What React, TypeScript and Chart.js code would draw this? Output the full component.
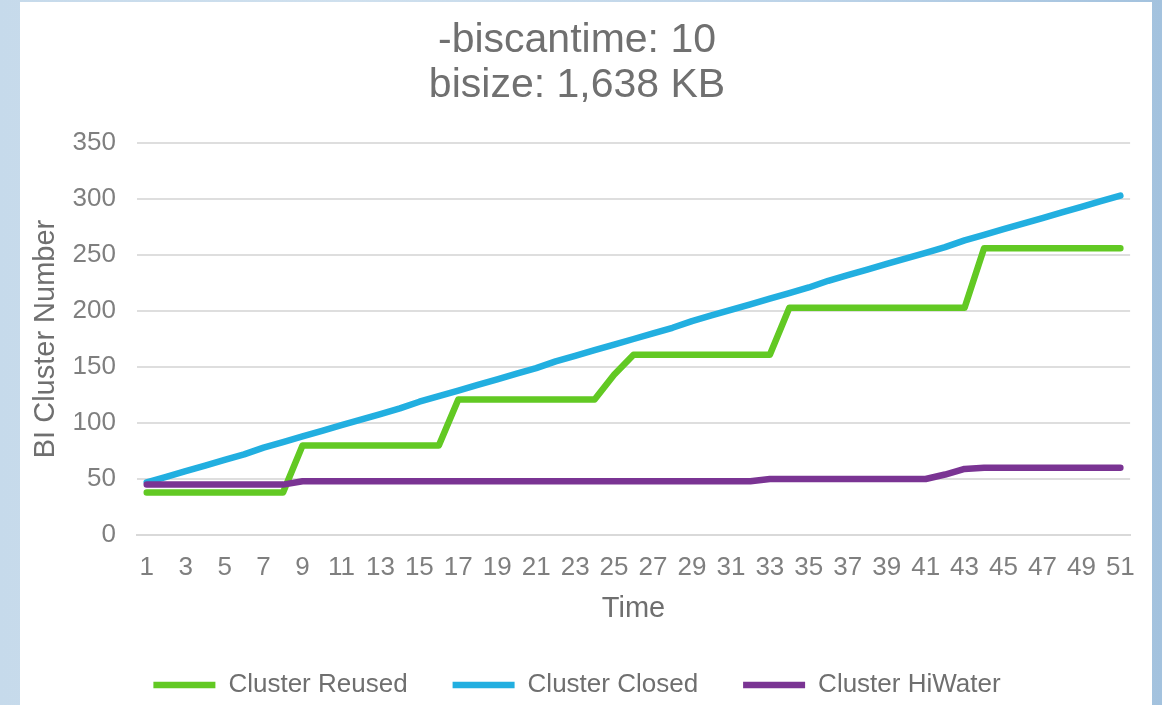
import React, { useEffect, useRef } from "react";
import { Chart, registerables } from "chart.js";

Chart.register(...registerables);

const titleLines = ["-biscantime: 10", "bisize: 1,638 KB"];
const xAxisTitle = "Time";
const yAxisTitle = "BI Cluster Number";

const categories = [
  "1", "2", "3", "4", "5", "6", "7", "8", "9", "10",
  "11", "12", "13", "14", "15", "16", "17", "18", "19", "20",
  "21", "22", "23", "24", "25", "26", "27", "28", "29", "30",
  "31", "32", "33", "34", "35", "36", "37", "38", "39", "40",
  "41", "42", "43", "44", "45", "46", "47", "48", "49", "50",
  "51",
];

const clusterReused = [
  38, 38, 38, 38, 38, 38, 38, 38,
  80, 80, 80, 80, 80, 80, 80, 80,
  121, 121, 121, 121, 121, 121, 121, 121,
  143,
  161, 161, 161, 161, 161, 161, 161, 161,
  203, 203, 203, 203, 203, 203, 203, 203, 203, 203,
  256, 256, 256, 256, 256, 256, 256, 256,
];

const clusterClosed = [
  47, 52, 57, 62, 67, 72, 78, 83, 88, 93,
  98, 103, 108, 113, 119, 124, 129, 134, 139, 144,
  149, 155, 160, 165, 170, 175, 180, 185, 191, 196,
  201, 206, 211, 216, 221, 227, 232, 237, 242, 247,
  252, 257, 263, 268, 273, 278, 283, 288, 293, 298,
  303,
];

const clusterHiWater = [
  45, 45, 45, 45, 45, 45, 45, 45,
  48, 48, 48, 48, 48, 48, 48, 48, 48, 48, 48, 48,
  48, 48, 48, 48, 48, 48, 48, 48, 48, 48, 48, 48,
  50, 50, 50, 50, 50, 50, 50, 50, 50,
  54, 59,
  60, 60, 60, 60, 60, 60, 60, 60,
];

const seriesNames = ["Cluster Reused", "Cluster Closed", "Cluster HiWater"];
const seriesColors = ["#62c923", "#22afe0", "#7a3493"];

const FONT = "'Liberation Sans', Arial, Helvetica, sans-serif";

export default function App() {
  const canvasRef = useRef<HTMLCanvasElement | null>(null);

  useEffect(() => {
    const canvas = canvasRef.current;
    if (!canvas) return;
    const seriesData = [clusterReused, clusterClosed, clusterHiWater];
    const chart = new Chart(canvas, {
      type: "line",
      data: {
        labels: categories,
        datasets: seriesNames.map((name, i) => ({
          label: name,
          data: seriesData[i],
          borderColor: seriesColors[i],
          backgroundColor: seriesColors[i],
          borderWidth: 6.5,
          pointRadius: 0,
          pointHoverRadius: 0,
          tension: 0,
          fill: false,
          borderCapStyle: "round" as const,
          borderJoinStyle: "round" as const,
          order: 3 - i,
        })),
      },
      options: {
        responsive: false,
        animation: false,
        events: [],
        layout: { padding: { left: 0, right: 18, top: 0, bottom: 0 } },
        plugins: {
          tooltip: { enabled: false },
          title: {
            display: true,
            text: titleLines,
            color: "#707070",
            font: { family: FONT, size: 41, weight: "normal", lineHeight: 1.1 },
            padding: { top: 18, bottom: 34.8 },
          },
          legend: {
            display: true,
            position: "bottom",
            labels: {
              usePointStyle: true,
              pointStyle: "line",
              pointStyleWidth: 62,
              padding: 45,
              color: "#6f6f6f",
              font: { family: FONT, size: 26 },
              sort: (a: any, b: any) => a.datasetIndex - b.datasetIndex,
            },
          },
        },
        scales: {
          x: {
            type: "category",
            offset: true,
            grid: { display: false, drawTicks: false },
            border: { display: true, color: "#d9d9d9", width: 2 },
            ticks: {
              autoSkip: false,
              maxRotation: 0,
              minRotation: 0,
              padding: 17,
              color: "#7f7f7f",
              font: { family: FONT, size: 26 },
              callback: function (_v: any, index: number) {
                return index % 2 === 0 ? categories[index] : "";
              },
            },
            title: {
              display: true,
              text: xAxisTitle,
              color: "#6f6f6f",
              font: { family: FONT, size: 29 },
              padding: { top: 0, bottom: 1 },
            },
            afterFit: (scale: any) => {
              scale.height = 92;
            },
          },
          y: {
            min: 0,
            max: 350,
            grid: { color: "#dedede", lineWidth: 2, drawTicks: false },
            border: { display: false },
            ticks: {
              stepSize: 50,
              padding: 21,
              color: "#7f7f7f",
              font: { family: FONT, size: 26 },
            },
            title: {
              display: true,
              text: yAxisTitle,
              color: "#6f6f6f",
              font: { family: FONT, size: 29 },
              padding: { top: 9, bottom: 0 },
            },
            afterFit: (scale: any) => {
              scale.width = 117;
            },
          },
        },
      },
    });
    return () => chart.destroy();
  }, []);

  return (
    <div
      style={{
        position: "fixed",
        left: 0,
        top: 0,
        width: 1162,
        height: 705,
        overflow: "hidden",
        background: "linear-gradient(to right, #c6daeb 0%, #cfe0ee 30%, #bcd3e8 70%, #a3c2de 100%)",
      }}
    >
      <div
        style={{
          position: "absolute",
          left: 20,
          top: 2,
          width: 1132,
          height: 703,
          background: "#ffffff",
        }}
      />
      <canvas
        ref={canvasRef}
        width={1132}
        height={708}
        style={{ position: "absolute", left: 20, top: 0, width: 1132, height: 708 }}
      />
    </div>
  );
}
